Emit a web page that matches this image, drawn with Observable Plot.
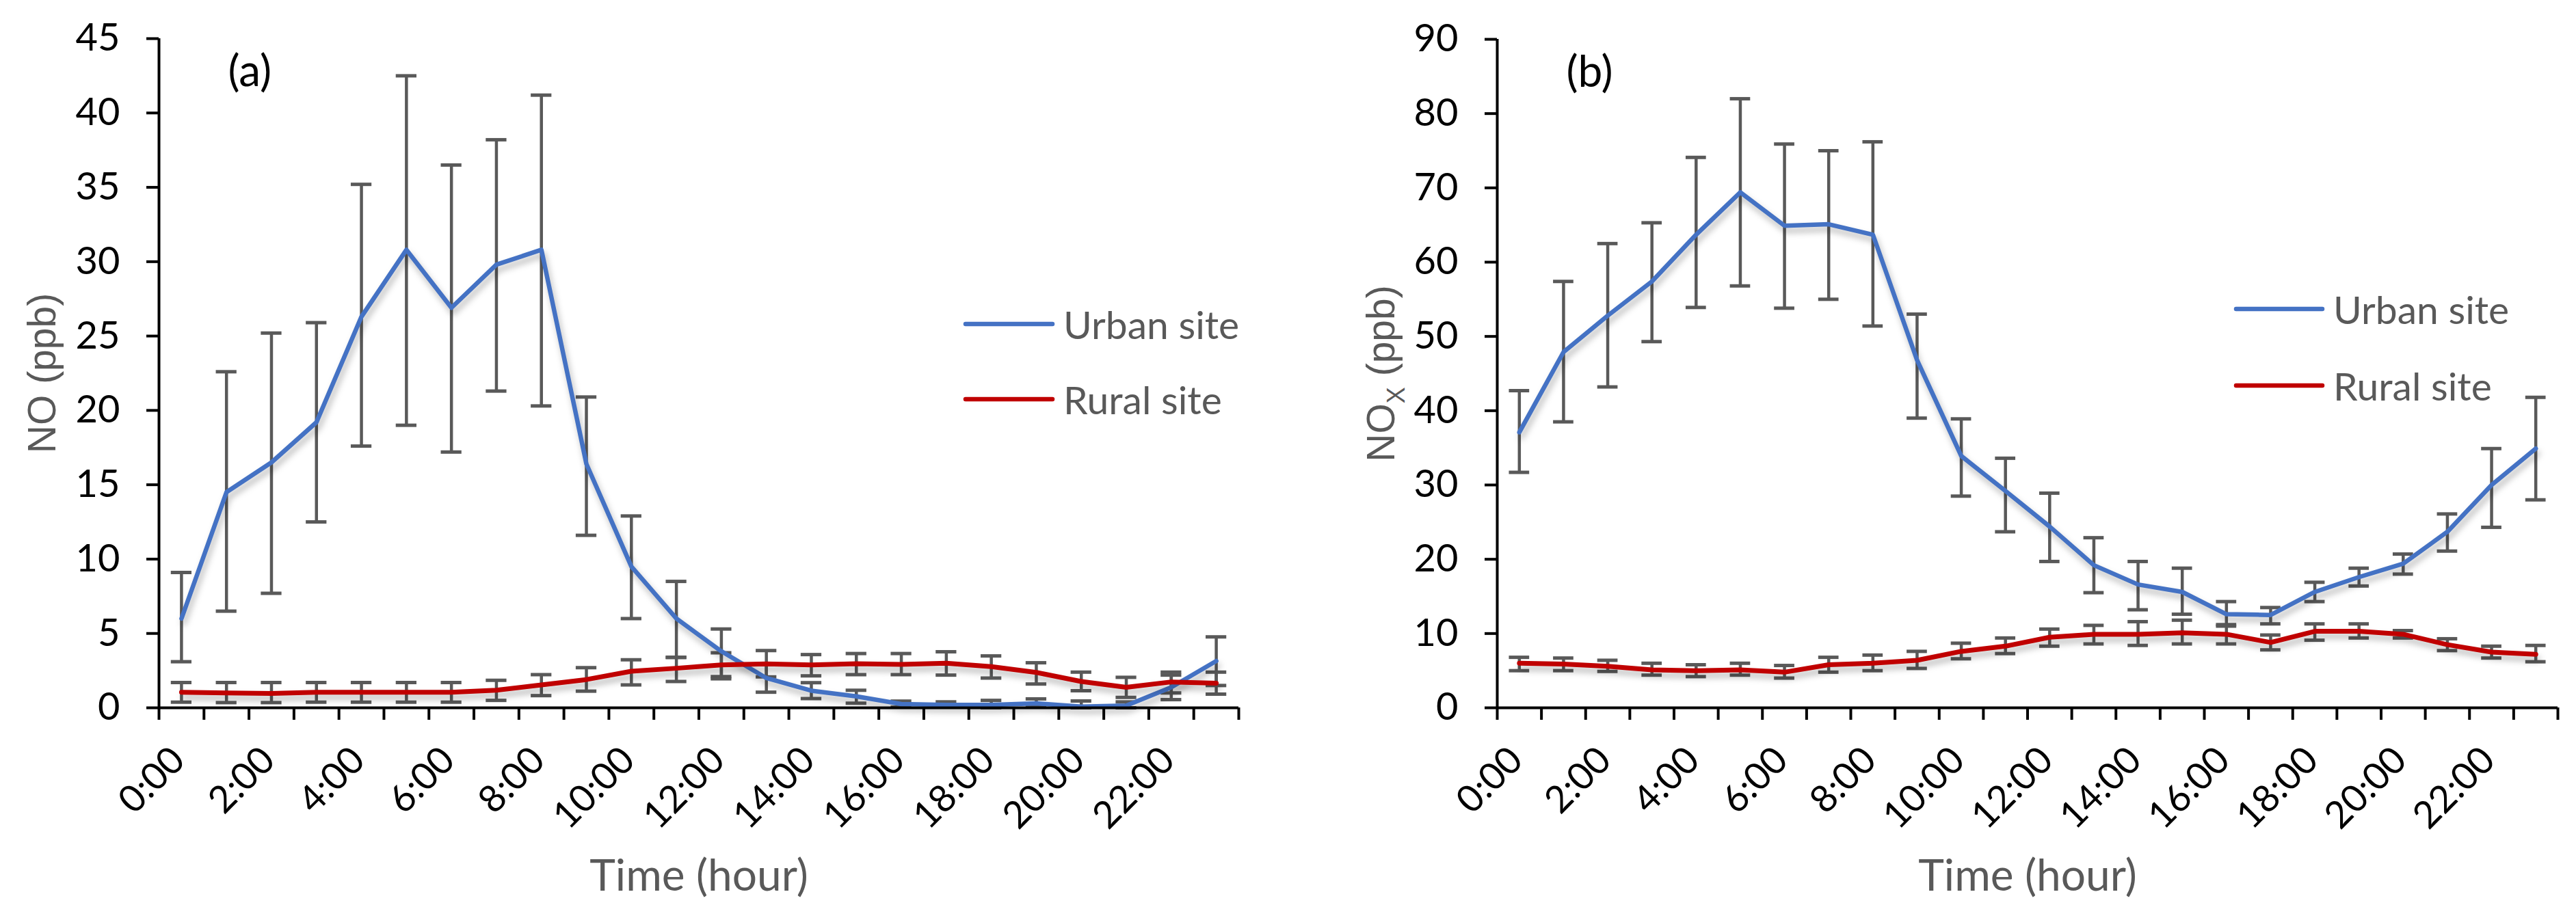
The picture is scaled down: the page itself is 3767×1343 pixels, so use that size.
<!DOCTYPE html>
<html>
<head>
<meta charset="utf-8">
<script src="https://cdn.jsdelivr.net/npm/d3@7"></script>
<script src="https://cdn.jsdelivr.net/npm/@observablehq/plot@0.6"></script>
<style>
  html, body { margin: 0; padding: 0; background: #ffffff; }
  #fig { display: flex; width: 3767px; height: 1343px; overflow: hidden; background: #ffffff; }
  #fig svg { display: block; }
</style>
</head>
<body>
<div id="fig"></div>
<script>
// ---------- data ----------
const hours = [0,1,2,3,4,5,6,7,8,9,10,11,12,13,14,15,16,17,18,19,20,21,22,23];
const labelHours = [0,2,4,6,8,10,12,14,16,18,20,22];
const hourLabels = ["0:00","2:00","4:00","6:00","8:00","10:00","12:00","14:00","16:00","18:00","20:00","22:00"];
const noTicks = [0,5,10,15,20,25,30,35,40,45];
const noxTicks = [0,10,20,30,40,50,60,70,80,90];
const seriesNames = ["Urban site","Rural site"];

// (a) NO, ppb
const noUrban   = [6.0,14.5,16.5,19.2,26.3,30.8,26.9,29.8,30.8,16.4,9.5,6.0,3.8,2.0,1.15,0.77,0.25,0.2,0.2,0.3,0.08,0.15,1.38,3.15];
const noUrbanLo = [3.1,6.5,7.7,12.5,17.6,19.0,17.2,21.3,20.3,11.6,6.0,3.4,2.1,1.05,0.62,0.31,0.05,0.05,0.0,0.05,0.0,0.0,0.55,1.5];
const noUrbanHi = [9.1,22.6,25.2,25.9,35.2,42.5,36.5,38.2,41.2,20.9,12.9,8.5,5.3,2.95,1.69,1.18,0.45,0.4,0.5,0.6,0.46,0.4,2.2,4.77];
const noRural   = [1.05,1.0,0.97,1.05,1.05,1.05,1.05,1.18,1.54,1.9,2.46,2.66,2.88,2.95,2.88,2.97,2.92,3.0,2.77,2.38,1.77,1.38,1.74,1.66];
const noRuralLo = [0.38,0.35,0.35,0.38,0.38,0.38,0.38,0.5,0.82,1.12,1.54,1.77,1.95,2.08,2.15,2.23,2.23,2.2,2.0,1.6,1.15,0.7,1.0,0.92];
const noRuralHi = [1.7,1.7,1.7,1.7,1.7,1.7,1.7,1.85,2.23,2.7,3.23,3.38,3.7,3.85,3.58,3.65,3.65,3.77,3.49,3.03,2.4,2.05,2.4,2.4];

// (b) NOx, ppb
const noxUrban   = [37.1,47.9,52.8,57.4,63.7,69.4,64.9,65.1,63.7,46.8,33.9,29.2,24.4,19.2,16.6,15.6,12.6,12.5,15.6,17.6,19.4,23.7,30.0,34.9];
const noxUrbanLo = [31.7,38.5,43.2,49.3,53.9,56.8,53.8,55.0,51.4,39.0,28.5,23.7,19.7,15.5,13.2,12.6,11.0,11.3,14.3,16.4,18.0,21.1,24.3,28.0];
const noxUrbanHi = [42.7,57.4,62.5,65.3,74.1,82.0,75.9,75.0,76.2,53.0,38.9,33.6,28.9,22.9,19.7,18.8,14.3,13.5,16.9,18.8,20.7,26.1,34.9,41.8];
const noxRural   = [6.0,5.9,5.6,5.1,5.0,5.1,4.8,5.8,6.0,6.4,7.6,8.3,9.5,9.9,9.9,10.1,9.9,8.8,10.3,10.3,9.9,8.5,7.5,7.2];
const noxRuralLo = [5.0,5.0,4.9,4.4,4.2,4.4,4.0,4.8,5.0,5.3,6.6,7.3,8.3,8.6,8.4,8.6,8.6,7.8,9.1,9.4,9.4,7.7,6.7,6.2];
const noxRuralHi = [6.8,6.7,6.4,6.0,5.8,6.0,5.7,6.8,7.1,7.6,8.7,9.4,10.6,11.1,11.6,11.8,11.2,9.8,11.3,11.3,10.4,9.3,8.3,8.4];

// ---------- style ----------
const BLUE = "#4472C4", RED = "#C00000", ERR = "#595959", GRAY = "#595959";
const FONT = "Lato, 'Open Sans', sans-serif";
const TITLEFONT = "'Liberation Sans', Arial, sans-serif";
const CAP = 0.23;

function panel(cfg) {
  const rows = (v, lo, hi) => hours.map((h, i) => ({x: h + 0.5, v: v[i], lo: lo[i], hi: hi[i]}));
  const U = rows(cfg.urban, cfg.urbanLo, cfg.urbanHi);
  const R = rows(cfg.rural, cfg.ruralLo, cfg.ruralHi);
  const err = data => [
    Plot.ruleX(data, {x: "x", y1: "lo", y2: "hi", stroke: ERR, strokeWidth: 4.5}),
    Plot.ruleY(data, {y: "lo", x1: d => d.x - CAP, x2: d => d.x + CAP, stroke: ERR, strokeWidth: 5}),
    Plot.ruleY(data, {y: "hi", x1: d => d.x - CAP, x2: d => d.x + CAP, stroke: ERR, strokeWidth: 5})
  ];
  const fmt = new Map(labelHours.map((h, i) => [h + 0.5, hourLabels[i]]));
  const svg = Plot.plot({
    width: cfg.width,
    height: 1343,
    marginLeft: cfg.ml, marginRight: cfg.mr, marginTop: cfg.mt, marginBottom: 308,
    x: {domain: [0, hours.length], axis: null},
    y: {domain: [0, cfg.yMax], axis: null},
    style: {background: "#ffffff", color: "#000000", overflow: "visible"},
    marks: [
      ...err(U),
      ...err(R),
      Plot.lineY(U, {x: "x", y: "v", stroke: BLUE, strokeWidth: 6.5, strokeLinejoin: "round", strokeLinecap: "round"}),
      Plot.lineY(R, {x: "x", y: "v", stroke: RED, strokeWidth: 7, strokeLinejoin: "round", strokeLinecap: "round"}),
      Plot.ruleX([0], {stroke: "#000", strokeWidth: 4}),
      Plot.ruleY([0], {stroke: "#000", strokeWidth: 4}),
      Plot.axisY({ticks: cfg.yTicks, label: null, tickSize: 18, tickPadding: 39, strokeWidth: 4, fontSize: 56, fontFamily: FONT, tickFormat: d => String(d)}),
      Plot.axisX({ticks: d3.range(hours.length + 1), label: null, tickSize: 18, strokeWidth: 4, tickFormat: () => ""}),
      Plot.axisX({ticks: labelHours.map(h => h + 0.5), label: null, tickSize: 0, tickPadding: 80, tickRotate: -45,
                  textAnchor: "end", lineAnchor: "bottom", dx: 8, fontSize: 55, fontFamily: FONT,
                  tickFormat: d => fmt.get(d)}),
      Plot.text([cfg.yTitle], {text: d => d, frameAnchor: "left", rotate: -90, dx: cfg.titleDx,
                  textAnchor: "middle", lineAnchor: "bottom", fontSize: 57, fontFamily: TITLEFONT, fill: GRAY}),
      Plot.text(["Time (hour)"], {text: d => d, frameAnchor: "bottom", dy: 267, lineAnchor: "bottom",
                  fontSize: 64, fontFamily: FONT, fill: GRAY}),
      Plot.text([cfg.tag], {text: d => d, frameAnchor: "top-left", dx: 101, dy: 49, textAnchor: "start",
                  lineAnchor: "middle", fontSize: 64, fontFamily: FONT, fill: "#000"})
    ]
  });
  const s = d3.select(svg);
  s.selectAll('g[aria-label="line"]').style("filter", "drop-shadow(3px 7px 5px rgba(0,0,0,0.28))");
  // subscript in axis title
  if (cfg.sub) {
    s.selectAll("text").filter(function () { return this.textContent === cfg.yTitle; }).each(function () {
      const t = d3.select(this);
      t.text(null);
      t.append("tspan").text(cfg.sub[0]);
      t.append("tspan").attr("font-size", 36).attr("dy", 15).text(cfg.sub[1]);
      t.append("tspan").attr("dy", -15).text(cfg.sub[2]);
    });
  }
  // legend
  const g = s.append("g").attr("font-family", FONT).attr("font-size", 57).attr("fill", GRAY).attr("text-anchor", "start");
  [BLUE, RED].forEach((c, i) => {
    const y = cfg.legY[i];
    g.append("line").attr("x1", cfg.legX1).attr("x2", cfg.legX2).attr("y1", y).attr("y2", y)
      .attr("stroke", c).attr("stroke-width", 6.5).attr("stroke-linecap", "round");
    g.append("text").attr("x", cfg.legText).attr("y", y).attr("dominant-baseline", "central")
      .attr("text-anchor", "start").text(seriesNames[i]);
  });
  return svg;
}

const fig = document.getElementById("fig");
fig.appendChild(panel({
  width: 1883, ml: 232, mr: 72, mt: 56, yMax: 45, yTicks: noTicks, yTitle: "NO (ppb)", titleDx: -152, tag: "(a)",
  urban: noUrban, urbanLo: noUrbanLo, urbanHi: noUrbanHi, rural: noRural, ruralLo: noRuralLo, ruralHi: noRuralHi,
  legX1: 1412, legX2: 1539, legText: 1555, legY: [474, 584]
}));
fig.appendChild(panel({
  width: 1884, ml: 306, mr: 27, mt: 57, yMax: 90, yTicks: noxTicks, yTitle: "NOX (ppb)", titleDx: -151, tag: "(b)",
  sub: ["NO", "X", " (ppb)"],
  urban: noxUrban, urbanLo: noxUrbanLo, urbanHi: noxUrbanHi, rural: noxRural, ruralLo: noxRuralLo, ruralHi: noxRuralHi,
  legX1: 1387, legX2: 1513, legText: 1529, legY: [452, 564]
}));
</script>
</body>
</html>
